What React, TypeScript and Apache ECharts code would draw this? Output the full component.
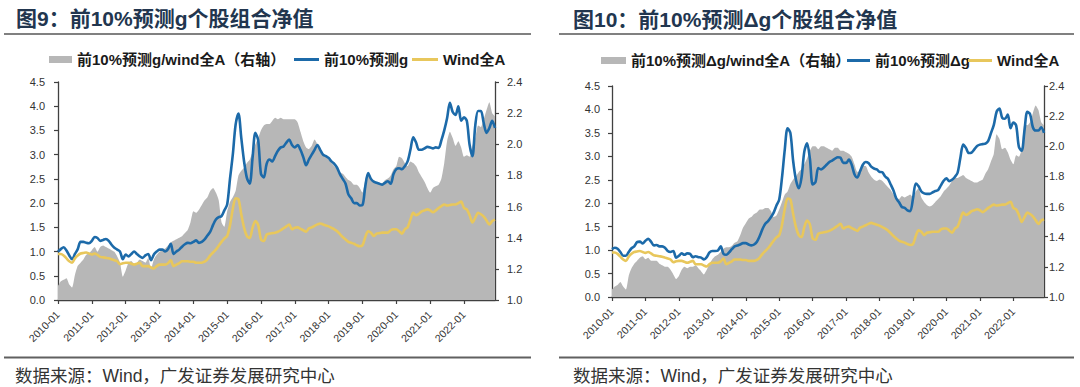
import React, { useEffect, useRef } from "react";
import * as echarts from "echarts";

// ---------- categories ----------
const YEARS = [2010, 2011, 2012, 2013, 2014, 2015, 2016, 2017, 2018, 2019, 2020, 2021, 2022];
const CATEGORIES: string[] = [];
for (const y of YEARS) {
  for (let m = 1; m <= 12; m++) CATEGORIES.push(`${y}-${String(m).padStart(2, "0")}`);
}

// ---------- texts ----------
const TITLE_LEFT = "图9：前10%预测g个股组合净值";
const TITLE_RIGHT = "图10：前10%预测Δg个股组合净值";
const SOURCE = "数据来源：Wind，广发证券发展研究中心";
const NAME_G_RATIO = "前10%预测g/wind全A（右轴）";
const NAME_G = "前10%预测g";
const NAME_DG_RATIO = "前10%预测Δg/wind全A（右轴）";
const NAME_DG = "前10%预测Δg";
const NAME_WIND = "Wind全A";

// ---------- series values (monthly, 2010-01 .. 2022-12) ----------
const G_TOP10 = [
  1.00, 1.05, 1.09, 1.02, 0.92, 0.84, 0.95, 1.05, 1.20, 1.20, 1.18, 1.17,
  1.22, 1.30, 1.28, 1.22, 1.24, 1.26, 1.22, 1.14, 1.08, 1.04, 1.00, 0.84,
  0.94, 0.90, 0.95, 1.00, 0.95, 0.90, 0.87, 0.92, 0.95, 0.82, 0.94, 1.00,
  1.04, 1.04, 1.00, 1.05, 1.16, 0.95, 1.00, 1.04, 1.10, 1.15, 1.18, 1.17,
  1.20, 1.23, 1.18, 1.20, 1.25, 1.33, 1.41, 1.55, 1.66, 1.71, 1.73, 1.85,
  1.97, 2.50, 3.00, 3.62, 3.85, 3.35, 2.86, 2.52, 2.40, 2.93, 3.45, 3.30,
  2.60, 2.53, 2.81, 2.90, 2.86, 2.97, 3.08, 3.15, 3.17, 3.25, 3.31, 3.20,
  3.15, 3.20, 3.10, 2.95, 2.78, 2.90, 3.00, 3.10, 3.20, 3.10, 3.00, 2.97,
  2.93, 2.86, 2.81, 2.73, 2.60, 2.50, 2.40, 2.18, 2.10, 2.00, 2.00, 1.95,
  1.96, 2.35, 2.62, 2.50, 2.44, 2.42, 2.40, 2.38, 2.42, 2.45, 2.40, 2.60,
  2.70, 2.72, 2.70, 2.76, 2.86, 3.10, 3.36, 3.25, 3.10, 3.10, 3.13, 3.16,
  3.15, 3.13, 3.15, 3.14, 3.30, 3.50, 3.75, 4.07, 3.88, 3.82, 4.00, 3.70,
  3.77, 3.70, 3.20, 2.97, 3.60, 3.90, 3.90, 3.65, 3.45, 3.55, 3.70, 3.55,
];

const WIND_A = [
  0.95, 0.95, 0.92, 0.86, 0.80, 0.77, 0.86, 0.92, 0.96, 0.97, 0.98, 0.96,
  0.94, 0.96, 0.93, 0.89, 0.88, 0.87, 0.86, 0.84, 0.82, 0.80, 0.74, 0.76,
  0.77, 0.77, 0.75, 0.73, 0.75, 0.77, 0.70, 0.70, 0.70, 0.67, 0.65, 0.70,
  0.73, 0.73, 0.73, 0.76, 0.82, 0.70, 0.73, 0.76, 0.80, 0.80, 0.80, 0.79,
  0.79, 0.77, 0.77, 0.77, 0.79, 0.84, 0.92, 0.98, 1.04, 1.12, 1.20, 1.27,
  1.32, 1.54, 1.88, 2.10, 2.08, 1.77, 1.49, 1.32, 1.28, 1.49, 1.63, 1.55,
  1.25, 1.22, 1.35, 1.37, 1.38, 1.39, 1.41, 1.44, 1.48, 1.52, 1.56, 1.46,
  1.49, 1.50, 1.47, 1.44, 1.41, 1.48, 1.50, 1.53, 1.56, 1.58, 1.56, 1.54,
  1.52, 1.49, 1.46, 1.42, 1.36, 1.30, 1.25, 1.20, 1.18, 1.16, 1.13, 1.11,
  1.13, 1.30, 1.42, 1.39, 1.32, 1.37, 1.38, 1.39, 1.39, 1.39, 1.44, 1.46,
  1.46, 1.42, 1.37, 1.46, 1.50, 1.66, 1.80, 1.75, 1.78, 1.83, 1.85, 1.87,
  1.85, 1.81, 1.85, 1.90, 1.94, 1.97, 1.95, 1.96, 1.97, 1.97, 2.00, 2.03,
  1.90, 1.87, 1.75, 1.60, 1.70, 1.80, 1.77, 1.72, 1.64, 1.56, 1.63, 1.66,
];

const G_RATIO = [
  1.09, 1.12, 1.13, 1.14, 1.10, 1.08, 1.16, 1.22, 1.24, 1.26, 1.29, 1.30,
  1.32, 1.34, 1.31, 1.34, 1.35, 1.34, 1.33, 1.32, 1.31, 1.28, 1.24, 1.15,
  1.19, 1.24, 1.25, 1.23, 1.24, 1.26, 1.25, 1.24, 1.27, 1.20, 1.26, 1.29,
  1.31, 1.32, 1.33, 1.35, 1.37, 1.38, 1.39, 1.40, 1.41, 1.43, 1.45, 1.50,
  1.57, 1.56, 1.58, 1.61, 1.64, 1.66, 1.70, 1.72, 1.69, 1.64, 1.50, 1.47,
  1.57, 1.63, 1.66, 1.70, 1.80, 1.83, 1.85, 1.88, 1.90, 1.95, 2.00, 2.04,
  2.09, 2.12, 2.13, 2.13, 2.15, 2.17, 2.16, 2.17, 2.16, 2.16, 2.16, 2.16,
  2.16, 2.14, 2.08, 2.02, 1.98, 1.97, 1.99, 2.03, 2.00, 1.97, 1.94, 1.92,
  1.90, 1.88, 1.86, 1.84, 1.82, 1.81, 1.79, 1.77, 1.76, 1.74, 1.74, 1.72,
  1.69, 1.77, 1.81, 1.78, 1.77, 1.76, 1.75, 1.75, 1.77, 1.78, 1.80, 1.84,
  1.86, 1.92, 1.91, 1.88, 1.86, 1.89, 1.88, 1.86, 1.82, 1.79, 1.76, 1.72,
  1.69, 1.72, 1.73, 1.74, 1.78, 1.88, 2.02, 2.08, 2.04, 1.99, 2.02, 1.98,
  1.92, 1.93, 1.92, 1.99, 2.04, 2.12, 2.11, 2.16, 2.22, 2.27, 2.20, 2.18,
];

const DG_TOP10 = [
  1.02, 1.05, 1.03, 0.96, 0.88, 0.88, 0.96, 1.04, 1.08, 1.17, 1.18, 1.14,
  1.20, 1.24, 1.18, 1.10, 1.11, 1.08, 1.08, 1.05, 0.98, 0.96, 0.98, 0.84,
  0.88, 0.93, 0.90, 0.93, 0.92, 0.85, 0.87, 0.85, 0.84, 0.80, 0.85, 0.95,
  0.98, 0.98, 0.99, 1.08, 0.92, 0.90, 0.95, 1.02, 1.08, 1.10, 1.12, 1.15,
  1.15, 1.12, 1.10, 1.12, 1.18, 1.30, 1.45, 1.56, 1.62, 1.70, 1.80, 1.95,
  2.08, 2.55, 3.15, 3.60, 3.50, 2.90, 2.50, 2.32, 2.55, 3.10, 3.28, 2.95,
  2.40, 2.45, 2.75, 2.72, 2.76, 2.82, 2.88, 2.91, 2.95, 2.98, 2.97, 2.86,
  2.86, 2.93, 2.82, 2.62, 2.55, 2.68, 2.82, 2.88, 2.86, 2.78, 2.74, 2.72,
  2.67, 2.66, 2.57, 2.52, 2.40, 2.27, 2.10, 2.02, 1.92, 1.90, 1.85, 1.83,
  2.10, 2.42, 2.36, 2.25, 2.21, 2.20, 2.20, 2.23, 2.26, 2.28, 2.38, 2.48,
  2.53, 2.47, 2.50, 2.56, 2.65, 2.97, 3.25, 3.18, 3.07, 3.08, 3.15, 3.22,
  3.25, 3.26, 3.27, 3.33, 3.50, 3.67, 3.95, 4.02, 3.82, 3.80, 3.89, 3.60,
  3.72, 3.66, 3.20, 3.12, 3.55, 3.95, 3.90, 3.62, 3.55, 3.55, 3.62, 3.50,
];

const DG_RATIO = [
  1.05, 1.07, 1.08, 1.10, 1.07, 1.05, 1.14, 1.19, 1.22, 1.24, 1.26, 1.27,
  1.25, 1.26, 1.24, 1.24, 1.24, 1.22, 1.21, 1.20, 1.20, 1.18, 1.15, 1.12,
  1.14, 1.18, 1.20, 1.19, 1.20, 1.20, 1.21, 1.19, 1.17, 1.15, 1.18, 1.22,
  1.25, 1.27, 1.28, 1.30, 1.32, 1.33, 1.33, 1.34, 1.36, 1.37, 1.41, 1.46,
  1.49, 1.52, 1.53, 1.55, 1.56, 1.58, 1.58, 1.59, 1.59, 1.57, 1.53, 1.54,
  1.58, 1.63, 1.68, 1.70, 1.75, 1.78, 1.80, 1.83, 1.85, 1.88, 1.92, 1.97,
  2.00, 2.00, 1.98, 2.00, 2.00, 1.99, 1.98, 1.97, 1.99, 1.99, 1.97, 1.97,
  1.96, 1.95, 1.93, 1.88, 1.83, 1.84, 1.87, 1.87, 1.83, 1.80, 1.78, 1.77,
  1.78, 1.77, 1.75, 1.73, 1.71, 1.68, 1.66, 1.65, 1.67, 1.66, 1.67, 1.68,
  1.66, 1.70, 1.72, 1.66, 1.63, 1.61, 1.60, 1.61, 1.63, 1.65, 1.67, 1.70,
  1.72, 1.74, 1.77, 1.79, 1.79, 1.80, 1.81, 1.79, 1.78, 1.77, 1.76, 1.76,
  1.77, 1.78, 1.82, 1.85, 1.90, 1.95, 2.08, 2.05, 1.98, 1.99, 1.96, 1.91,
  1.88, 1.94, 1.93, 1.98, 2.15, 2.14, 2.16, 2.22, 2.27, 2.24, 2.16, 2.14,
];

// ---------- styling ----------
const FONT = "'Liberation Sans', Arial, 'Noto Sans CJK SC', sans-serif";
const GRAY = "#b7b7b7";
const BLUE = "#1c6aa9";
const YELLOW = "#e8c75c";
const AXIS = "#404040";
const LABEL = "#333333";

function xAxisFor(gridIndex: number) {
  return {
    type: "category",
    gridIndex,
    data: CATEGORIES,
    boundaryGap: false,
    axisLine: { show: true, lineStyle: { color: AXIS, width: 1.3 } },
    axisTick: { show: true, interval: 11, length: 4, lineStyle: { color: AXIS, width: 1.2 } },
    axisLabel: { interval: 11, rotate: 45, fontSize: 10.5, color: LABEL, margin: 13, fontFamily: FONT },
    splitLine: { show: false },
  };
}

function yAxisFor(gridIndex: number, position: string, min: number, max: number, interval: number, margin: number) {
  return {
    type: "value",
    gridIndex,
    position,
    min,
    max,
    interval,
    axisLine: { show: true, lineStyle: { color: AXIS, width: 1.3 } },
    axisTick: { show: true, length: 4, lineStyle: { color: AXIS, width: 1.2 } },
    axisLabel: {
      fontSize: 11,
      color: LABEL,
      margin,
      fontFamily: FONT,
      formatter: (v: number) => v.toFixed(1),
    },
    splitLine: { show: false },
  };
}

function legendFor(name: string, left: number, top: number, w: number, h: number) {
  return {
    data: [name],
    left,
    top,
    padding: 0,
    itemWidth: w,
    itemHeight: h,
    icon: "rect",
    selectedMode: false,
    textStyle: { fontSize: 15, fontWeight: "bold", color: "#1a1a1a", fontFamily: FONT },
  };
}

function areaSeries(name: string, data: number[], xAxisIndex: number, yAxisIndex: number) {
  return {
    name,
    type: "line",
    xAxisIndex,
    yAxisIndex,
    data,
    color: GRAY,
    showSymbol: false,
    symbol: "none",
    smooth: 0.2,
    lineStyle: { width: 0, color: GRAY },
    areaStyle: { color: GRAY, opacity: 1, origin: "start" },
    z: 1,
  };
}

function lineSeries(name: string, data: number[], color: string, xAxisIndex: number, yAxisIndex: number) {
  return {
    name,
    type: "line",
    xAxisIndex,
    yAxisIndex,
    data,
    color,
    showSymbol: false,
    symbol: "none",
    smooth: 0.3,
    lineStyle: { width: 2.6, color },
    z: 3,
  };
}

export default function App() {
  const ref = useRef<HTMLDivElement | null>(null);

  useEffect(() => {
    if (!ref.current) return;
    const chart = echarts.init(ref.current, undefined, { renderer: "svg" });
    const option = {
      animation: false,
      textStyle: { fontFamily: FONT },
      grid: [
        { left: 58, top: 82, width: 437, height: 218 },
        { left: 612, top: 86, width: 432, height: 211 },
      ],
      xAxis: [xAxisFor(0), xAxisFor(1)],
      yAxis: [
        yAxisFor(0, "left", 0, 4.5, 0.5, 13),
        yAxisFor(0, "right", 1.0, 2.4, 0.2, 12),
        yAxisFor(1, "left", 0, 4.5, 0.5, 12),
        yAxisFor(1, "right", 1.0, 2.4, 0.2, 5),
      ],
      legend: [
        legendFor(NAME_G_RATIO, 49, 52, 23, 7),
        legendFor(NAME_G, 294, 52, 25, 3),
        legendFor(NAME_WIND, 412, 52, 26, 3),
        legendFor(NAME_DG_RATIO, 601, 53, 25, 7),
        legendFor(NAME_DG, 847, 53, 23, 3),
        legendFor(NAME_WIND, 968, 53, 24, 3),
      ],
      series: [
        areaSeries(NAME_G_RATIO, G_RATIO, 0, 1),
        lineSeries(NAME_G, G_TOP10, BLUE, 0, 0),
        lineSeries(NAME_WIND, WIND_A, YELLOW, 0, 0),
        areaSeries(NAME_DG_RATIO, DG_RATIO, 1, 3),
        lineSeries(NAME_DG, DG_TOP10, BLUE, 1, 2),
        lineSeries(NAME_WIND, WIND_A, YELLOW, 1, 2),
      ],
      graphic: [
        {
          type: "text",
          x: 16,
          y: 18,
          style: { text: TITLE_LEFT, fontSize: 21, fontWeight: "bold", fontFamily: FONT, fill: "#22364f", verticalAlign: "middle" },
        },
        {
          type: "text",
          x: 573,
          y: 19,
          style: { text: TITLE_RIGHT, fontSize: 21, fontWeight: "bold", fontFamily: FONT, fill: "#22364f", verticalAlign: "middle" },
        },
        { type: "line", shape: { x1: 4, y1: 34, x2: 531, y2: 34 }, style: { stroke: "#808080", lineWidth: 2 } },
        { type: "line", shape: { x1: 559, y1: 34, x2: 1074, y2: 34 }, style: { stroke: "#808080", lineWidth: 2 } },
        { type: "line", shape: { x1: 4, y1: 357.5, x2: 531, y2: 357.5 }, style: { stroke: "#606060", lineWidth: 2 } },
        { type: "line", shape: { x1: 559, y1: 357.5, x2: 1074, y2: 357.5 }, style: { stroke: "#606060", lineWidth: 2 } },
        {
          type: "text",
          x: 15,
          y: 376,
          style: { text: SOURCE, fontSize: 17.5, fontFamily: FONT, fill: "#333333", verticalAlign: "middle" },
        },
        {
          type: "text",
          x: 573,
          y: 376,
          style: { text: SOURCE, fontSize: 17.5, fontFamily: FONT, fill: "#333333", verticalAlign: "middle" },
        },
      ],
    };
    chart.setOption(option as any);
    return () => {
      chart.dispose();
    };
  }, []);

  return (
    <div
      ref={ref}
      style={{ position: "absolute", left: 0, top: 0, width: 1080, height: 387, background: "#ffffff" }}
    />
  );
}
